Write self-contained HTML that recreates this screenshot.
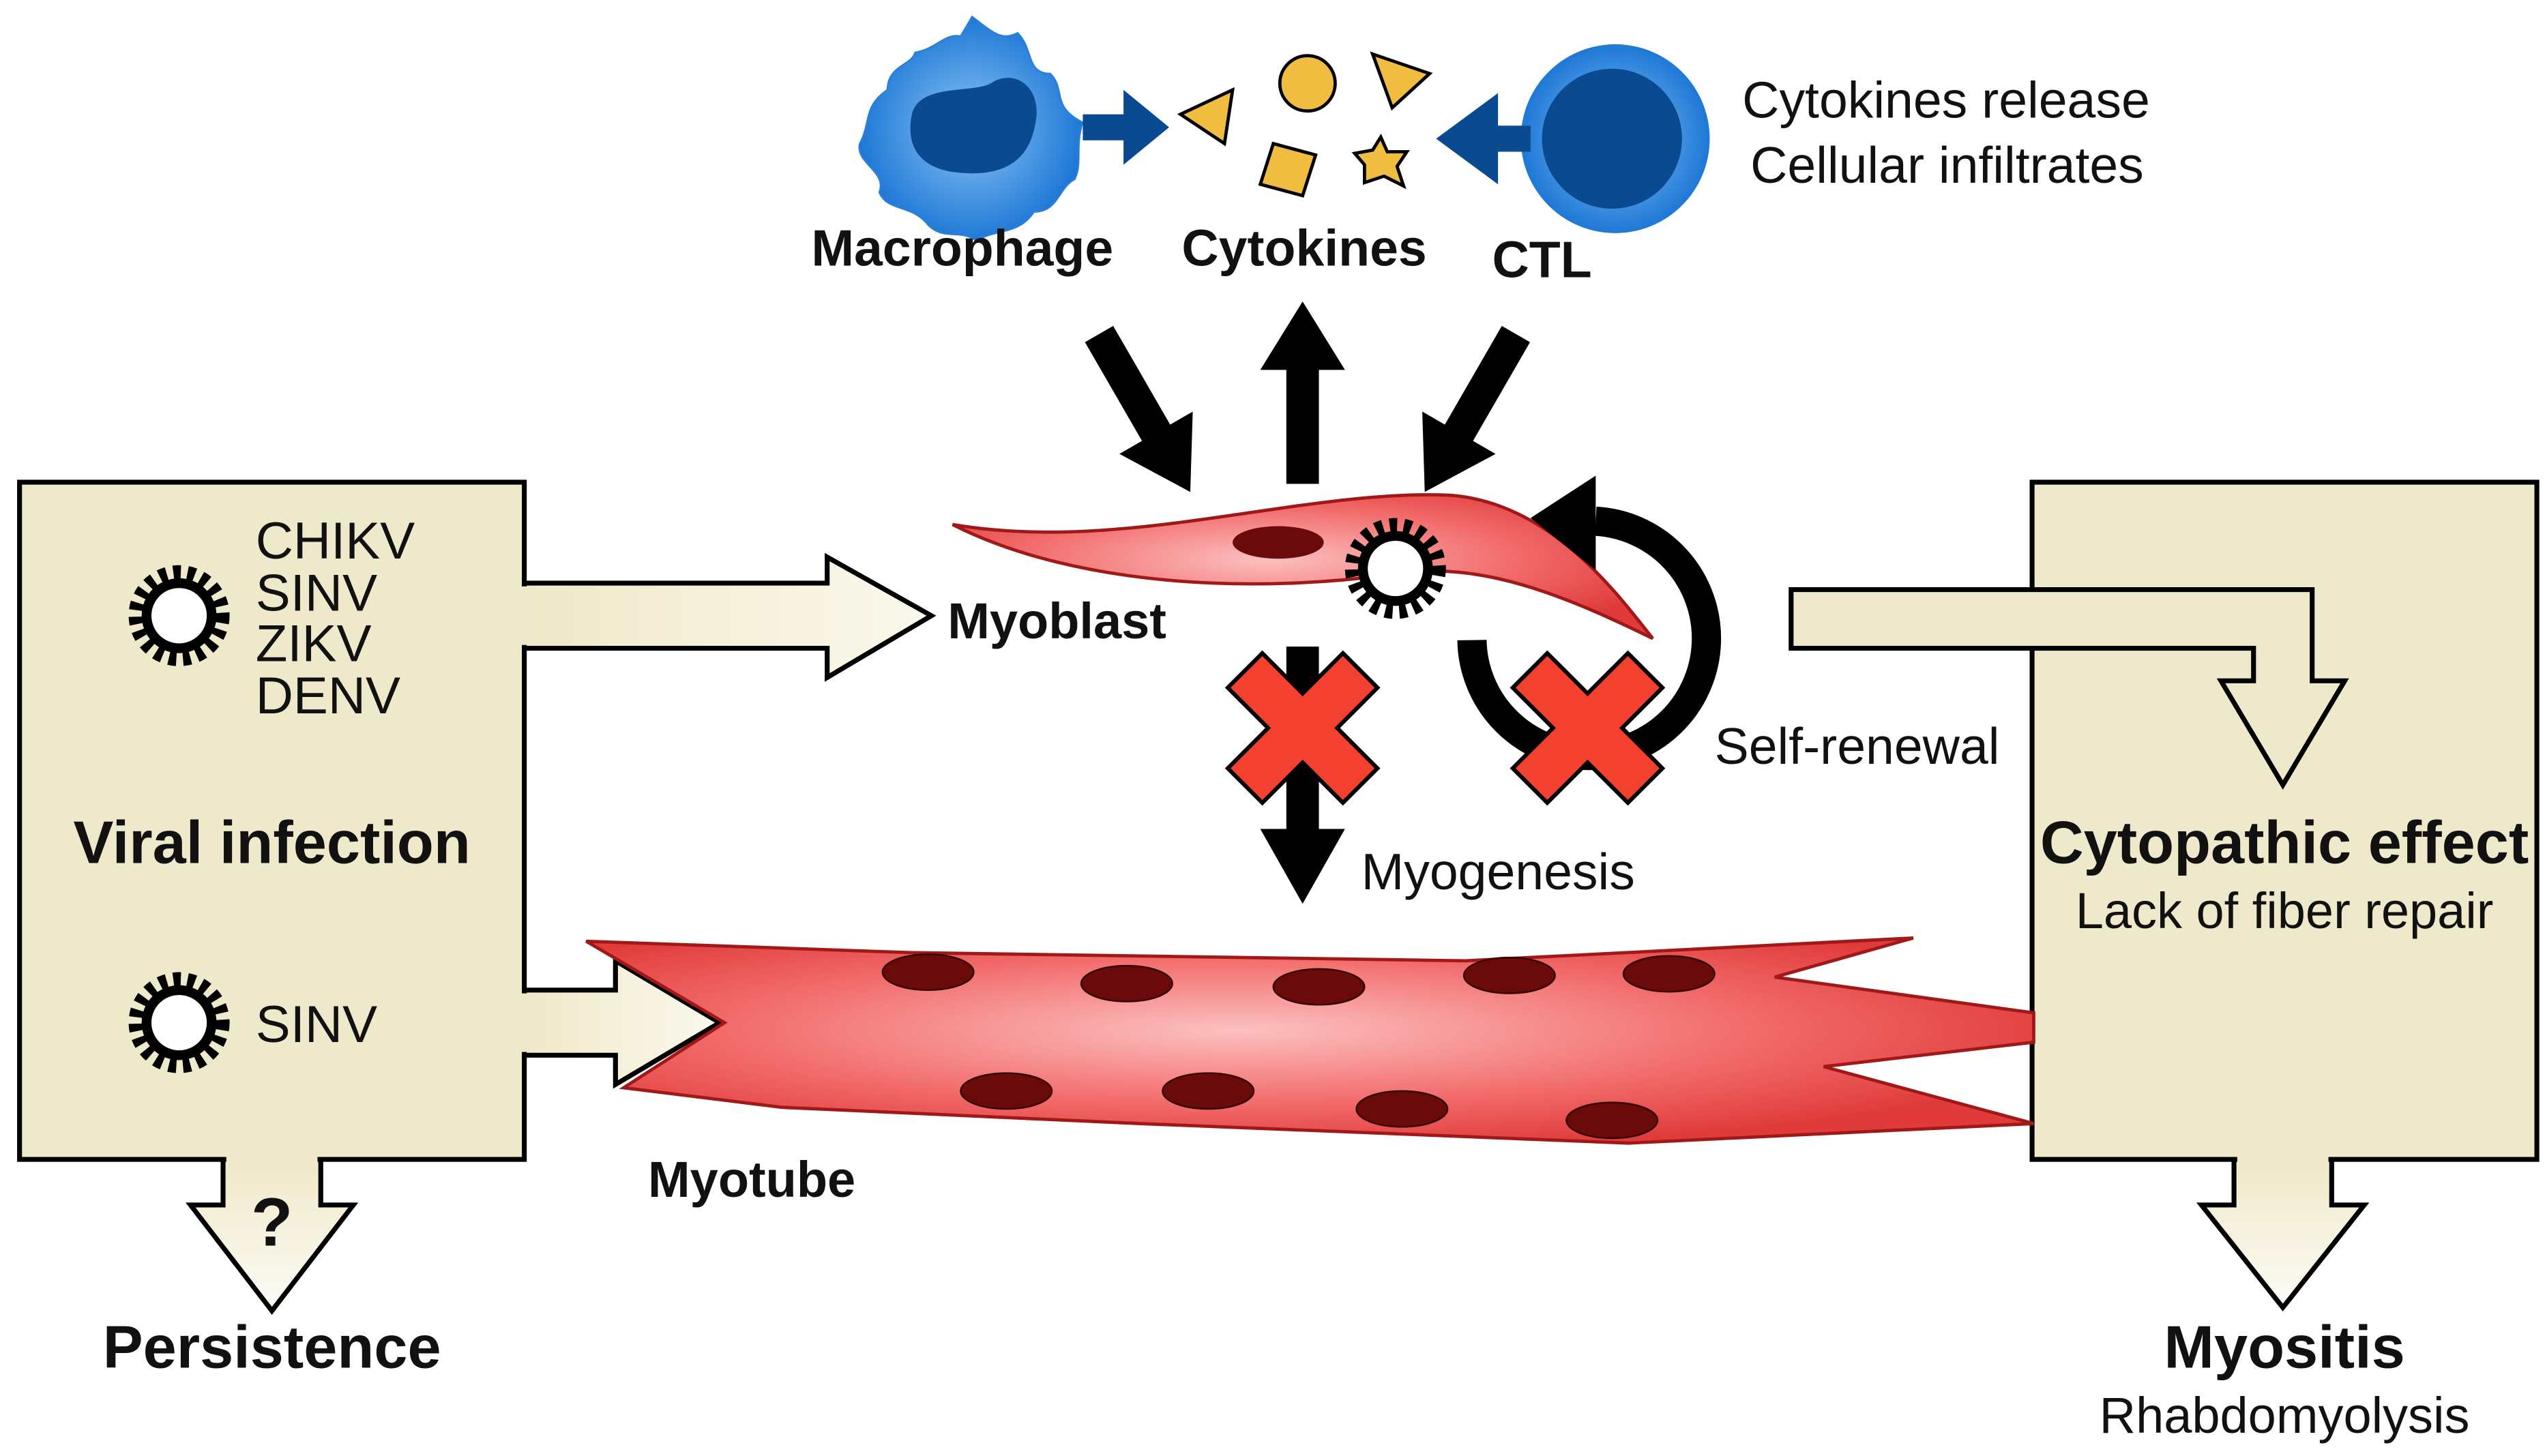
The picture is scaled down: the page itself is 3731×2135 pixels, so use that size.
<!DOCTYPE html>
<html><head><meta charset="utf-8"><style>
html,body{margin:0;padding:0;background:#fff}
svg{display:block}
text{font-family:"Liberation Sans",Arial,sans-serif;fill:#111}
.b{font-weight:bold}
</style></head><body>
<svg width="3731" height="2135" viewBox="0 0 1563 894" xmlns="http://www.w3.org/2000/svg">
<defs>
<linearGradient id="bg" x1="0" y1="0" x2="0" y2="1"><stop offset="0" stop-color="#efe8c8"/><stop offset="1" stop-color="#fdfcf6"/></linearGradient>
<linearGradient id="bh" x1="0" y1="0" x2="1" y2="0"><stop offset="0" stop-color="#efe8c8"/><stop offset="1" stop-color="#fbf9ee"/></linearGradient>
<radialGradient id="red" cx="0.45" cy="0.45" r="0.6"><stop offset="0" stop-color="#fcc0c0"/><stop offset="0.6" stop-color="#f26a6a"/><stop offset="1" stop-color="#e03a3a"/></radialGradient>
<radialGradient id="blue" cx="0.5" cy="0.5" r="0.5"><stop offset="0" stop-color="#8cc4f4"/><stop offset="1" stop-color="#1e78d6"/></radialGradient>
<g id="virus"><circle r="26" fill="none" stroke="#000" stroke-width="10" stroke-dasharray="4.5 4"/><circle r="23" fill="#000"/><circle r="17" fill="#fff"/></g>
<g id="xm"><polygon transform="rotate(45)" points="-15,-50 15,-50 15,-15 50,-15 50,15 15,15 15,50 -15,50 -15,15 -50,15 -50,-15 -15,-15" fill="#f4402e" stroke="#000" stroke-width="2.5"/></g>
</defs>

<rect x="12" y="296" width="310" height="416" fill="#efe9cc" stroke="#000" stroke-width="3"/>
<polygon points="322,358 508,358 508,342 572,378 508,416 508,398 322,398" fill="url(#bh)" stroke="#000" stroke-width="3"/>
<polygon points="322,608 378,608 378,590 442,628 378,666 378,648 322,648" fill="url(#bh)" stroke="#000" stroke-width="3"/>
<rect x="320" y="360" width="5" height="36" fill="#efe9cc"/>
<rect x="320" y="610" width="5" height="36" fill="#efe9cc"/>
<polygon points="137,712 137,740 117,740 167,805 217,740 197,740 197,712" fill="url(#bg)" stroke="#000" stroke-width="3"/>
<rect x="139" y="709" width="56" height="5" fill="#efe9cc"/>

<rect x="1248" y="296" width="310" height="416" fill="#efe9cc" stroke="#000" stroke-width="3"/>
<polygon points="1100,362 1420,362 1420,418 1440,418 1402,482 1364,418 1384,418 1384,398 1100,398" fill="#efe9cc" stroke="#000" stroke-width="3"/>
<polygon points="1372,712 1372,740 1352,740 1402,803 1452,740 1432,740 1432,712" fill="url(#bg)" stroke="#000" stroke-width="3"/>
<rect x="1374" y="709" width="56" height="5" fill="#efe9cc"/>

<polygon points="360,578 560,585 900,590 1175,576 1090,600 1249,622 1249,640 1120,655 1249,690 1000,702 700,690 480,680 383,668 445,628" fill="url(#red)" stroke="#a01818" stroke-width="2"/>
<g fill="#6a0a0a" stroke="#300" stroke-width="1">
<ellipse cx="570" cy="597" rx="28" ry="11"/><ellipse cx="692" cy="604" rx="28" ry="11"/><ellipse cx="810" cy="606" rx="28" ry="11"/><ellipse cx="927" cy="599" rx="28" ry="11"/><ellipse cx="1025" cy="598" rx="28" ry="11"/>
<ellipse cx="618" cy="670" rx="28" ry="11"/><ellipse cx="742" cy="670" rx="28" ry="11"/><ellipse cx="861" cy="681" rx="28" ry="11"/><ellipse cx="990" cy="688" rx="28" ry="11"/>
</g>

<path d="M585,322 C690,340 800,300 890,304 C950,308 990,360 1015,392 C960,365 910,345 860,352 C770,365 660,360 585,322 Z" fill="url(#red)" stroke="#a01818" stroke-width="2"/>
<ellipse cx="785" cy="333" rx="28" ry="10" fill="#6a0a0a"/>
<use href="#virus" x="857" y="349"/>

<use href="#virus" x="110" y="378"/>
<use href="#virus" x="110" y="628"/>

<g fill="#000">
<polygon points="0,-10 70,-10 70,-26 112,0 70,26 70,10 0,10" transform="translate(675,205) rotate(60)"/>
<polygon points="0,-10 70,-10 70,-26 112,0 70,26 70,10 0,10" transform="translate(931,205) rotate(120)"/>
<polygon points="0,-10 70,-10 70,-26 112,0 70,26 70,10 0,10" transform="translate(800,297) rotate(-90)"/>
<polygon points="0,-10 112,-10 112,-26 158,0 112,26 112,10 0,10" transform="translate(800,397) rotate(90)"/>
</g>
<path d="M904,393 A72,72 0 1 0 980,320" fill="none" stroke="#000" stroke-width="18"/>
<polygon points="980,292 980,350 940,318" fill="#000"/>

<use href="#xm" x="800" y="447"/>
<use href="#xm" x="975" y="447"/>

<path d="M597,10 C610,20 615,25 625,20 C635,30 630,45 645,45 C655,55 645,65 665,75 C660,90 665,100 660,110 C650,115 650,130 635,130 C625,145 610,140 600,148 C590,140 580,148 570,138 C560,125 545,130 540,118 C545,105 525,100 528,88 C535,75 530,65 545,55 C545,40 560,40 562,32 C575,30 580,20 590,22 Z" fill="url(#blue)" stroke="#2a80d8" stroke-width="1"/>
<path d="M560,70 C565,50 600,58 610,50 C625,42 640,55 636,75 C632,100 615,108 590,106 C565,104 556,90 560,70 Z" fill="#0a4a90"/>
<polygon points="665,70 690,70 690,55 718,78 690,101 690,86 665,86" fill="#0a4a90"/>

<circle cx="992" cy="85" r="58" fill="url(#blue)"/>
<circle cx="990" cy="85" r="43" fill="#0a4a90"/>
<polygon points="940,77 920,77 920,57 882,85 920,113 920,93 940,93" fill="#0a4a90"/>

<g fill="#f0bd40" stroke="#000" stroke-width="2">
<polygon points="725,70 757,55 752,88"/>
<circle cx="803" cy="51" r="17"/>
<polygon points="843,33 878,45 855,66"/>
<polygon points="782,88 808,95 800,120 774,113"/>
<polygon points="848,84 852,93 864,93 858,102 862,114 850,108 838,112 838,101 832,94 843,92"/>
</g>

<text x="1070" y="72" font-size="31.5">Cytokines release</text>
<text x="1075" y="112" font-size="31.5">Cellular infiltrates</text>
<text x="591" y="163" font-size="31.5" text-anchor="middle" class="b">Macrophage</text>
<text x="801" y="163" font-size="31.5" text-anchor="middle" class="b">Cytokines</text>
<text x="947" y="170" font-size="31.5" text-anchor="middle" class="b">CTL</text>
<text x="157" y="343" font-size="32">CHIKV</text>
<text x="157" y="375" font-size="32">SINV</text>
<text x="157" y="406" font-size="32">ZIKV</text>
<text x="157" y="438" font-size="32">DENV</text>
<text x="167" y="530" font-size="37" text-anchor="middle" class="b">Viral infection</text>
<text x="157" y="640" font-size="32">SINV</text>
<text x="167" y="765" font-size="42" text-anchor="middle" class="b">?</text>
<text x="167" y="840" font-size="37" text-anchor="middle" class="b">Persistence</text>
<text x="582" y="392" font-size="31" class="b">Myoblast</text>
<text x="398" y="735" font-size="31" class="b">Myotube</text>
<text x="836" y="546" font-size="31.5">Myogenesis</text>
<text x="1053" y="469" font-size="31.5">Self-renewal</text>
<text x="1403" y="530" font-size="37" text-anchor="middle" class="b">Cytopathic effect</text>
<text x="1403" y="570" font-size="31" text-anchor="middle">Lack of fiber repair</text>
<text x="1403" y="840" font-size="37" text-anchor="middle" class="b">Myositis</text>
<text x="1403" y="880" font-size="31" text-anchor="middle">Rhabdomyolysis</text>
</svg>
</body></html>
